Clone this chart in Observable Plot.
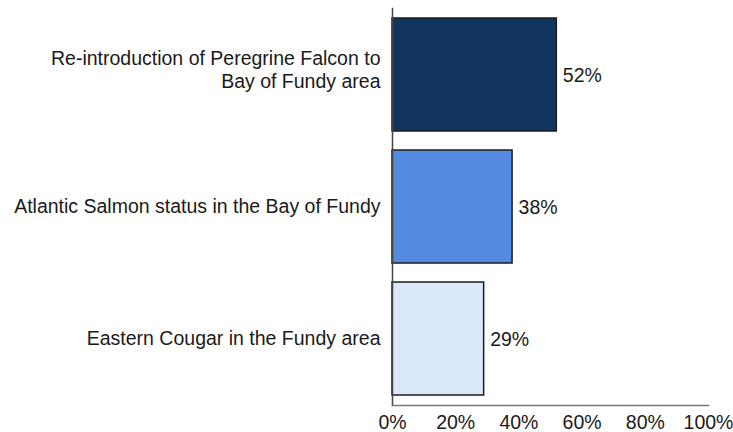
<!DOCTYPE html>
<html>
<head>
<meta charset="utf-8">
<script src="https://cdn.jsdelivr.net/npm/d3@7"></script>
<script src="https://cdn.jsdelivr.net/npm/@observablehq/plot@0.6"></script>
<style>
  html, body { margin: 0; padding: 0; background: #fff; }
  svg { font-family: "Liberation Sans", Arial, Helvetica, sans-serif; }
</style>
</head>
<body>
<div id="chart"></div>
<script>
const categories = [
  "Re-introduction of Peregrine Falcon to\nBay of Fundy area",
  "Atlantic Salmon status in the Bay of Fundy",
  "Eastern Cougar in the Fundy area"
];
const values = [52, 38, 29];
const colors = ["#12355f", "#548ae0", "#dbe8fc"];
const tickValues = [0, 20, 40, 60, 80, 100];

const data = categories.map((c, i) => ({category: c, value: values[i]}));

const chart = Plot.plot({
  width: 733,
  height: 432,
  marginLeft: 392,
  marginRight: 25,
  marginTop: 8,
  marginBottom: 27,
  style: {fontSize: "19.5px", fontFamily: "'Liberation Sans', Arial, sans-serif", color: "#1a1a1a", background: "#fff"},
  x: {domain: [0, 100], axis: null},
  y: {domain: categories, paddingInner: 0.147, paddingOuter: 0.068, axis: null},
  color: {domain: categories, range: colors},
  marks: [
    Plot.barX(data, {x: "value", y: "category", fill: "category", stroke: "#1c1c1c", strokeWidth: 1.5}),
    Plot.frame({anchor: "left", stroke: "#444", strokeWidth: 1.5}),
    Plot.frame({anchor: "bottom", stroke: "#777", strokeWidth: 1.5}),
    Plot.axisX({ticks: tickValues, tickSize: 0, tickPadding: 10, tickFormat: d => d + "%", label: null, fontSize: 19.5, fill: "#1a1a1a"}),
    Plot.text(data.filter(d => !d.category.includes("\n")), {x: 0, y: "category", text: "category", textAnchor: "end", dx: -12, fill: "#1a1a1a"}),
    Plot.text(data.filter(d => d.category.includes("\n")), {x: 0, y: "category", text: "category", textAnchor: "end", dx: -12, dy: -6, lineHeight: 1.18, fill: "#1a1a1a"}),
    Plot.text(data, {x: "value", y: "category", text: d => d.value + "%", textAnchor: "start", dx: 6, dy: 1, fill: "#1a1a1a"})
  ]
});
document.getElementById("chart").appendChild(chart);
</script>
</body>
</html>
